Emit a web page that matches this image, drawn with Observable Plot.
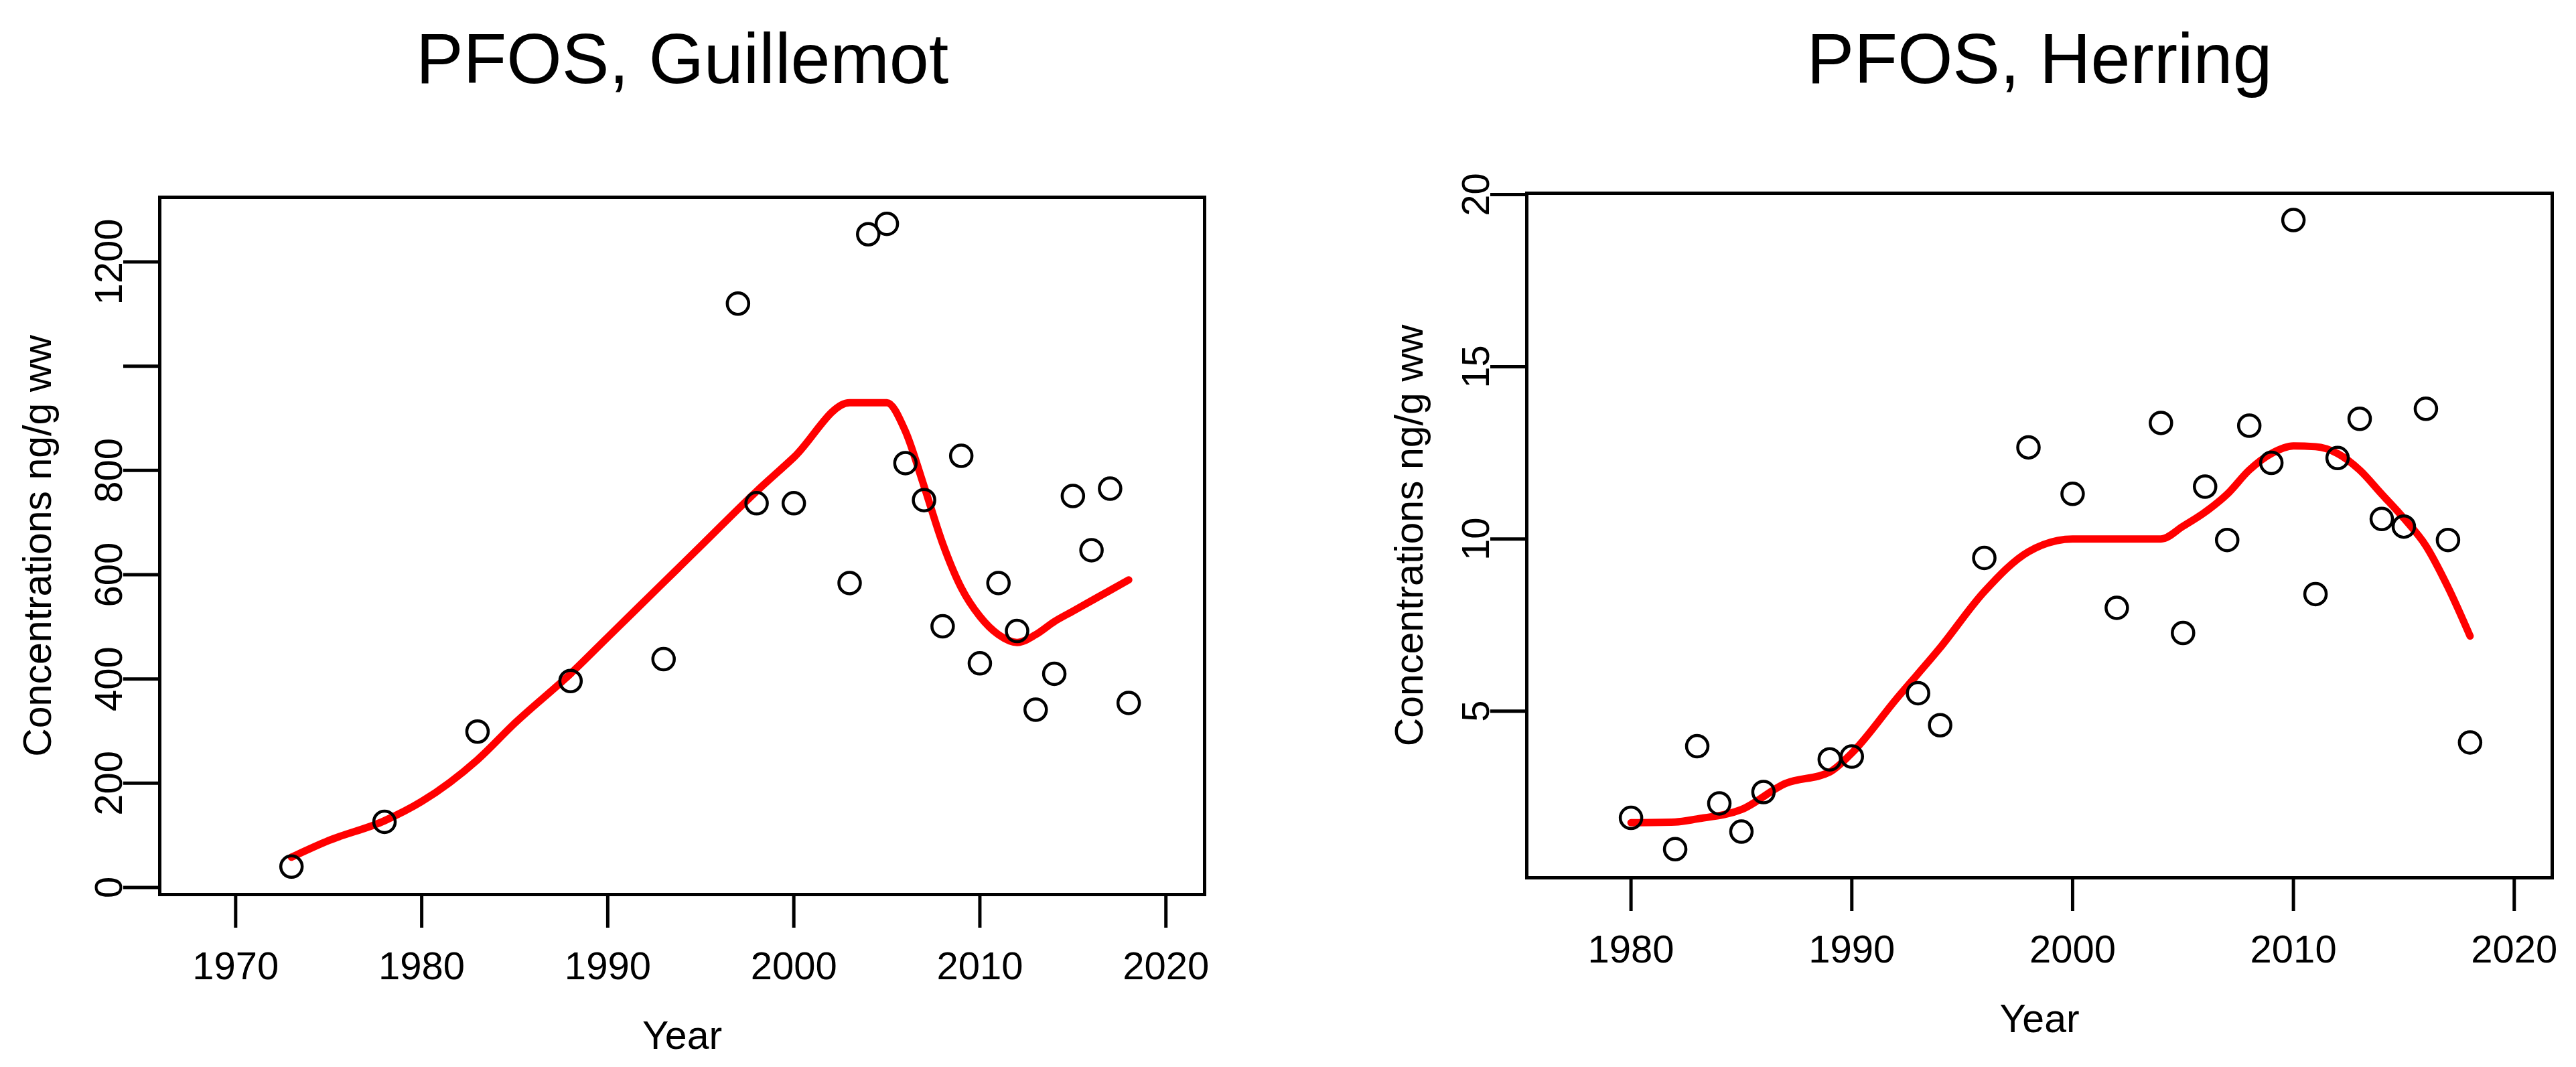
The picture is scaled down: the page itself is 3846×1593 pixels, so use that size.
<!DOCTYPE html>
<html>
<head>
<meta charset="utf-8">
<script src="https://cdn.jsdelivr.net/npm/d3@7"></script>
<script src="https://cdn.jsdelivr.net/npm/@observablehq/plot@0.6"></script>
<style>
  html, body { margin: 0; padding: 0; background: white; }
  #wrap { position: relative; width: 3846px; height: 1593px; overflow: hidden; background: white; }
  #left, #right { position: absolute; top: 0; }
  #left { left: 0; }
  #right { left: 1923px; }
</style>
</head>
<body>
<div id="wrap"><div id="left"></div><div id="right"></div></div>
<script>
// ---------- Guillemot ----------
const gTitle = "PFOS, Guillemot";
const gYears = [1973, 1978, 1983, 1988, 1993, 1997, 1998, 2000, 2003, 2004, 2005, 2006, 2007, 2008, 2009, 2010, 2011, 2012, 2013, 2014, 2015, 2016, 2017, 2018];
const gValues = [40, 126, 299, 396, 438, 1120, 737, 737, 584, 1253, 1273, 814, 743, 501, 828, 430, 584, 492, 341, 410, 751, 647, 765, 354];
const gSmoothYears = [1973, 1975, 1978, 1980, 1983, 1985, 1988, 1990, 1993, 1995, 1998, 2000, 2003, 2004, 2005, 2006, 2007, 2008, 2009, 2010, 2011, 2012, 2013, 2014, 2015, 2016, 2017, 2018];
const gSmooth = [58, 90, 128, 165, 245, 315, 410, 480, 585, 655, 760, 825, 930, 930, 930, 875, 770, 660, 575, 520, 485, 470, 485, 510, 530, 550, 570, 590];
const gXTicks = [1970, 1980, 1990, 2000, 2010, 2020];
const gYTicks = [0, 200, 400, 600, 800, 1000, 1200];
const gYTickLabels = ["0", "200", "400", "600", "800", "", "1200"];

// ---------- Herring ----------
const hTitle = "PFOS, Herring";
const hYears = [1980, 1982, 1983, 1984, 1985, 1986, 1989, 1990, 1993, 1994, 1996, 1998, 2000, 2002, 2004, 2005, 2006, 2007, 2008, 2009, 2010, 2011, 2012, 2013, 2014, 2015, 2016, 2017, 2018];
const hValues = [1.90, 0.99, 3.98, 2.32, 1.50, 2.65, 3.60, 3.68, 5.52, 4.59, 9.45, 12.66, 11.31, 8.0, 13.37, 7.27, 11.52, 9.97, 13.29, 12.21, 19.26, 8.40, 12.35, 13.49, 10.58, 10.36, 13.78, 9.97, 4.09];
const hSmoothYears = [1980, 1982, 1983, 1985, 1987, 1989, 1990, 1992, 1994, 1996, 1998, 2000, 2002, 2004, 2005, 2006, 2007, 2008, 2009, 2010, 2011, 2012, 2013, 2014, 2015, 2016, 2017, 2018];
const hSmooth = [1.76, 1.78, 1.87, 2.14, 2.9, 3.23, 3.78, 5.34, 6.84, 8.47, 9.63, 10.0, 10.0, 10.0, 10.37, 10.78, 11.3, 12.0, 12.48, 12.7, 12.68, 12.48, 12.0, 11.3, 10.6, 9.8, 8.6, 7.18];
const hXTicks = [1980, 1990, 2000, 2010, 2020];
const hYTicks = [5, 10, 15, 20];
const hYTickLabels = ["5", "10", "15", "20"];

const xLabel = "Year";
const yLabel = "Concentrations ng/g ww";

const FONT = "'Liberation Sans', Arial, Helvetica, sans-serif";
const TICKFS = 58;
const LABFS = 59;
const TITLEFS = 106;

function panel({title, years, values, sYears, sValues, xTicks, yTicks, yTickLabels, xDomain, yDomain, margins, yLabelDx, titleDy, xLabelDy}) {
  const pts = years.map((y, i) => ({year: y, value: values[i]}));
  const smooth = sYears.map((y, i) => ({year: y, value: sValues[i]}));
  const ylab = new Map(yTicks.map((t, i) => [t, yTickLabels[i]]));
  return Plot.plot({
    width: 1923,
    height: 1593,
    marginLeft: margins[0],
    marginRight: margins[1],
    marginTop: margins[2],
    marginBottom: margins[3],
    style: {fontFamily: FONT, fontSize: TICKFS + "px", color: "black", background: "white", overflow: "visible"},
    x: {domain: xDomain},
    y: {domain: yDomain},
    marks: [
      Plot.line(smooth, {x: "year", y: "value", stroke: "#ff0000", strokeWidth: 11, curve: "monotone-x"}),
      Plot.dot(pts, {x: "year", y: "value", r: 16, stroke: "black", strokeWidth: 4.5, fill: "none"}),
      Plot.frame({stroke: "black", strokeWidth: 5}),
      Plot.axisX({ticks: xTicks, tickSize: 50, tickPadding: 35, strokeWidth: 5, tickFormat: d => String(d), label: null, fontSize: TICKFS}),
      Plot.axisY({ticks: yTicks, tickSize: 54, tickPadding: 3, tickRotate: -90, strokeWidth: 5, tickFormat: d => ylab.get(d), label: null, fontSize: TICKFS}),
      Plot.text([title], {frameAnchor: "top", dy: titleDy, text: d => d, lineAnchor: "bottom", textAnchor: "middle", fontSize: TITLEFS, fill: "black"}),
      Plot.text([xLabel], {frameAnchor: "bottom", dy: xLabelDy, text: d => d, lineAnchor: "bottom", textAnchor: "middle", fontSize: LABFS, fill: "black"}),
      Plot.text([yLabel], {frameAnchor: "left", dx: yLabelDx, rotate: -90, text: d => d, lineAnchor: "bottom", textAnchor: "middle", fontSize: LABFS, fill: "black"})
    ]
  });
}

document.getElementById("left").appendChild(panel({
  title: gTitle, years: gYears, values: gValues, sYears: gSmoothYears, sValues: gSmooth,
  xTicks: gXTicks, yTicks: gYTicks, yTickLabels: gYTickLabels,
  xDomain: [1965.92, 2022.08], yDomain: [-13.5, 1324],
  margins: [238, 125, 294, 258], yLabelDx: -163, titleDy: -171, xLabelDy: 230
}));

document.getElementById("right").appendChild(panel({
  title: hTitle, years: hYears, values: hValues, sYears: hSmoothYears, sValues: hSmooth,
  xTicks: hXTicks, yTicks: hYTicks, yTickLabels: hYTickLabels,
  xDomain: [1975.28, 2021.72], yDomain: [0.16, 20.04],
  margins: [356, 36, 288, 283], yLabelDx: -156, titleDy: -165, xLabelDy: 230
}));
</script>
</body>
</html>
